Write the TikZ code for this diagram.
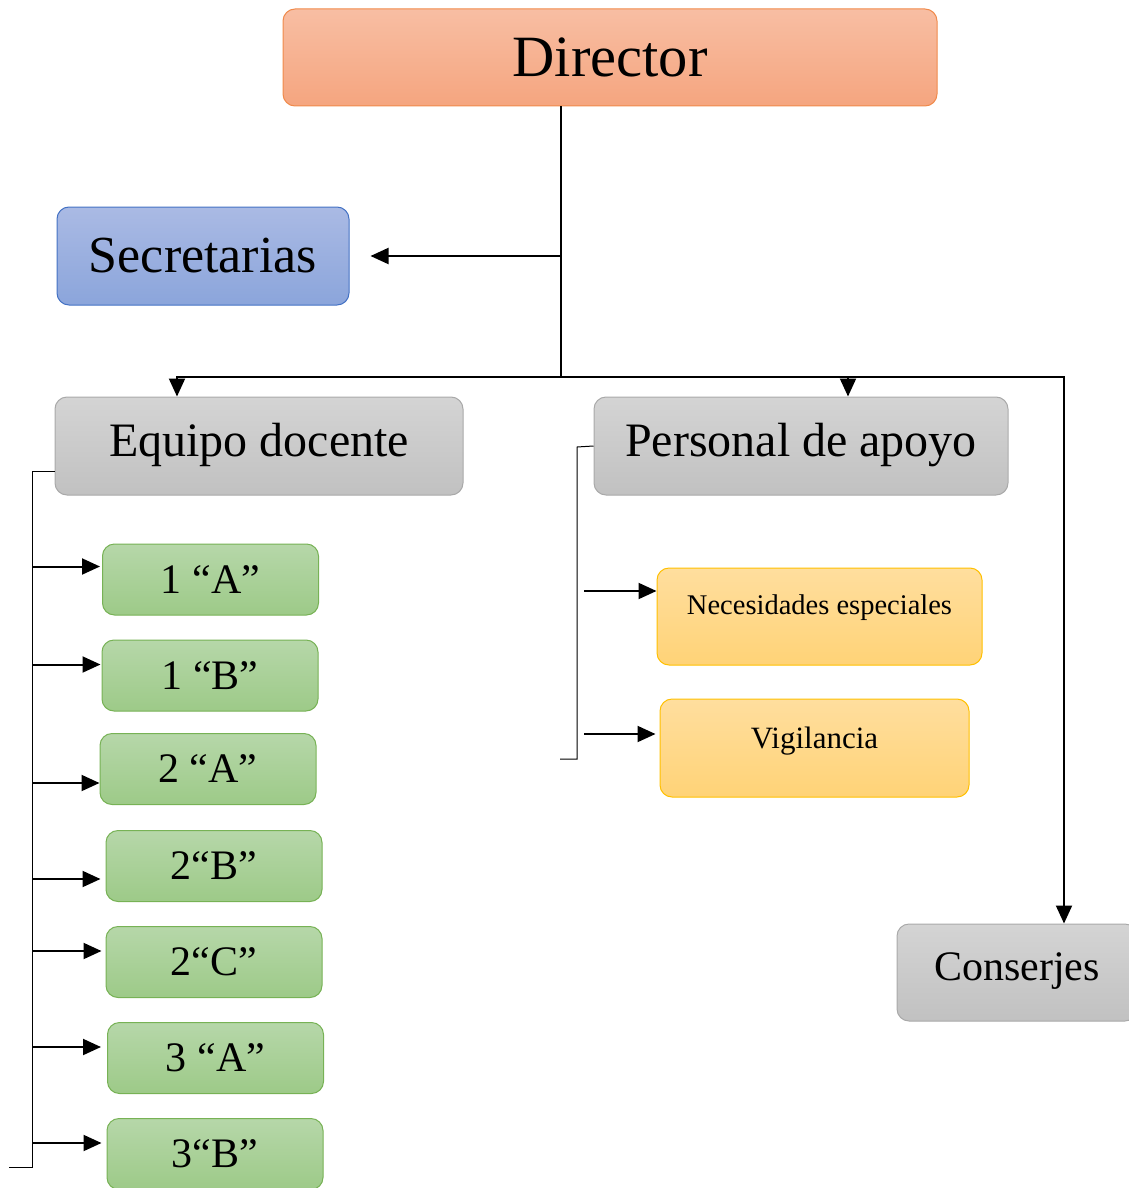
\documentclass[tikz,border=0pt]{standalone}
\usepackage{fontspec}
\setmainfont{Liberation Serif}
\usetikzlibrary{arrows.meta}
\definecolor{dirT}{HTML}{F8BEA3}
\definecolor{dirB}{HTML}{F5A57F}
\definecolor{dirD}{HTML}{F08A4B}
\definecolor{secT}{HTML}{AABAE4}
\definecolor{secB}{HTML}{8BA5DB}
\definecolor{secD}{HTML}{4472C4}
\definecolor{grT}{HTML}{D4D4D4}
\definecolor{grB}{HTML}{C1C1C1}
\definecolor{grD}{HTML}{A9A9A9}
\definecolor{gnT}{HTML}{B6D7A9}
\definecolor{gnB}{HTML}{9DCA88}
\definecolor{gnD}{HTML}{77B255}
\definecolor{orT}{HTML}{FFDE9E}
\definecolor{orB}{HTML}{FFD377}
\definecolor{orD}{HTML}{FFC000}
\begin{document}
\begin{tikzpicture}[x=1pt,y=-1pt,
  box/.style={rectangle, rounded corners=12pt, line width=1pt, inner sep=0pt, shading=axis, shading angle=0},
  dirbox/.style={box, draw=dirD, top color=dirT, bottom color=dirB, font=\fontsize{58.5}{60}\selectfont},
  secbox/.style={box, draw=secD, top color=secT, bottom color=secB, font=\fontsize{52}{54}\selectfont},
  graybox/.style={box, draw=grD, top color=grT, bottom color=grB, font=\fontsize{48}{50}\selectfont},
  greenbox/.style={box, draw=gnD, top color=gnT, bottom color=gnB, font=\fontsize{42}{44}\selectfont, minimum width=216pt, minimum height=71pt},
  orangebox/.style={box, draw=orD, top color=orT, bottom color=orB},
  link/.style={draw=black, line width=2pt},
  arr/.style={link, -{Triangle[length=18pt,width=16pt]}},
  thinlink/.style={draw=black, line width=1pt}
]
\useasboundingbox (0,0) rectangle (1128,1188);

% boxes
\node[dirbox, minimum width=654pt, minimum height=97pt] (director) at (610,57.5) {Director};
\node[secbox, minimum width=292pt, minimum height=98pt] (sec) at (203,256) {Secretarias};
\node[graybox, minimum width=408pt, minimum height=98pt, text height=34pt, text depth=14pt] (equipo) at (259,446) {Equipo docente};
\node[graybox, minimum width=414pt, minimum height=98pt, text height=34pt, text depth=14pt] (personal) at (801,446) {Personal de apoyo};
\node[graybox, minimum width=240pt, minimum height=97pt, font=\fontsize{42}{44}\selectfont, text height=29pt, text depth=13pt] (conserjes) at (1017,972.5) {Conserjes};

\node[greenbox] (g1) at (210.5,579.5) {1 “A”};
\node[greenbox] (g2) at (210,675.5) {1 “B”};
\node[greenbox] (g3) at (208,769) {2 “A”};
\node[greenbox] (g4) at (214,866) {2“B”};
\node[greenbox] (g5) at (214,962) {2“C”};
\node[greenbox] (g6) at (215.5,1058) {3 “A”};
\node[greenbox] (g7) at (215,1154) {3“B”};

\node[orangebox, minimum width=325pt, minimum height=97pt, font=\fontsize{28.5}{30}\selectfont, text height=20pt, text depth=24pt] (nec) at (819.5,616.5) {Necesidades especiales};
\node[orangebox, minimum width=309pt, minimum height=98pt, font=\fontsize{31}{33}\selectfont, text height=21pt, text depth=21pt] (vig) at (814.5,748) {Vigilancia};

% main tree
\coordinate (trunk) at (561,377);
\draw[link] (director.south -| trunk) -- (trunk);
\coordinate (secjoin) at (561,256);
\draw[arr] (secjoin) -- ([xshift=21pt]sec.east);
\coordinate (eqin) at ([xshift=-82pt]equipo.north);
\coordinate (pein) at ([xshift=47pt]personal.north);
\coordinate (coin) at ([xshift=47pt]conserjes.north);
\draw[arr] (trunk) -- (eqin |- trunk) -- (eqin);
\draw[arr] (trunk) -- (pein |- trunk) -- (pein);
\draw[arr] (pein |- trunk) -- (coin |- trunk) -- (coin);

% equipo bracket
\coordinate (ex) at (32,471);
\coordinate (eb) at (32,1167);
\coordinate (ee) at (9,1167);
\draw[thinlink] ([yshift=-25pt]equipo.west) -- (ex) -- (eb) -- (ee);
\coordinate (a1) at ([yshift=13pt,xshift=-2pt]g1.west);
\coordinate (a2) at ([yshift=11pt,xshift=-1pt]g2.west);
\coordinate (a3) at ([yshift=-14pt]g3.west);
\coordinate (a4) at ([yshift=-13pt,xshift=-5pt]g4.west);
\coordinate (a5) at ([yshift=11pt,xshift=-4pt]g5.west);
\coordinate (a6) at ([yshift=11pt,xshift=-6pt]g6.west);
\coordinate (a7) at ([yshift=11pt,xshift=-5pt]g7.west);
\foreach \a in {a1,a2,a3,a4,a5,a6,a7}
  \draw[arr] (\a -| ex) -- (\a);

% personal bracket
\coordinate (px) at (577,447);
\coordinate (pb) at (577,759);
\coordinate (pe) at (560,759);
\draw[thinlink] (personal.west) -- (px) -- (pb) -- (pe);
\coordinate (ns) at (584,591);
\coordinate (vs) at (584,734);
\draw[arr] (ns) -- (ns -| nec.west);
\draw[arr] (vs) -- ([xshift=-4pt]vs -| vig.west);
\end{tikzpicture}
\end{document}
